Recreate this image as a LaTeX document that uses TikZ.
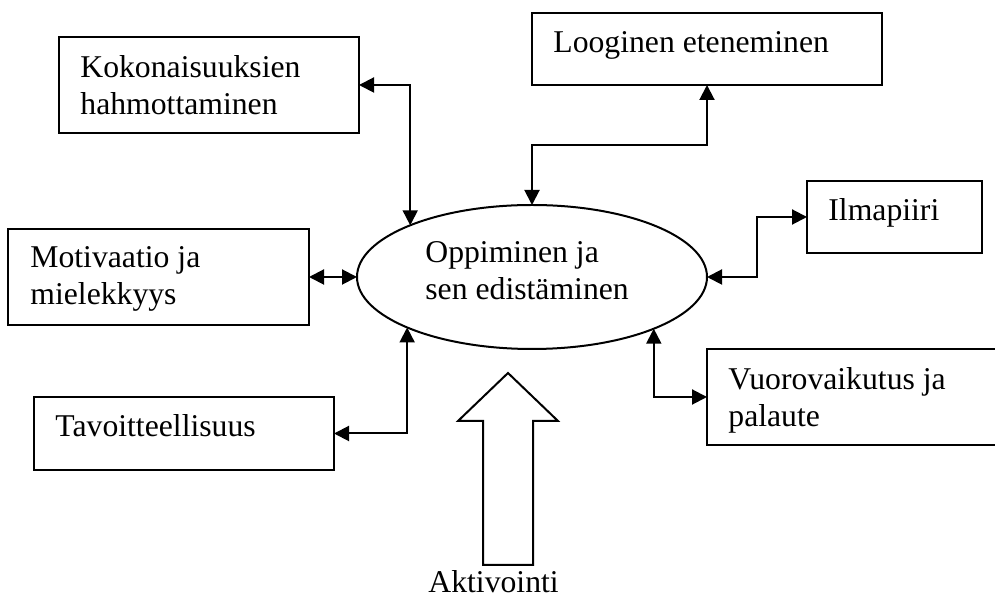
\documentclass[tikz,border=0pt]{standalone}
\usepackage{fontspec}
\setmainfont{Liberation Serif}
\usetikzlibrary{arrows.meta,shapes.geometric}
\begin{document}
\begin{tikzpicture}[x=0.5pt,y=-0.5pt,
  box/.style={draw, line width=1pt, rectangle, inner sep=0pt, outer sep=0pt},
  lbl/.style={anchor=base west, inner sep=0pt, font=\fontsize{15.85pt}{18.5pt}\selectfont},
  conn/.style={line width=1pt, {Triangle[length=7.5pt,width=7.5pt]}-{Triangle[length=7.5pt,width=7.5pt]}}]
\clip (0,0) rectangle (995,597);
% central ellipse
\node[draw, ellipse, line width=1pt, minimum width=175pt, minimum height=72pt, inner sep=0pt, outer sep=0pt] (E) at (532,277) {};
% boxes
\node[box, minimum width=150pt, minimum height=48pt] (K) at (209,85) {};
\node[box, minimum width=150.5pt, minimum height=48pt] (M) at (158.5,277) {};
\node[box, minimum width=150pt, minimum height=36.5pt] (T) at (184,433.5) {};
\node[box, minimum width=175pt, minimum height=36pt] (L) at (707,49) {};
\node[box, minimum width=87.5pt, minimum height=36pt] (I) at (894.5,217) {};
\node[box, minimum width=150pt, minimum height=48pt] (V) at (857,397) {};
% texts
\node[lbl] (k1) at (80,78) {Kokonaisuuksien};
\node[lbl] (k2) at (80,115) {hahmottaminen};
\node[lbl] (m1) at (30,268) {Motivaatio ja};
\node[lbl] (m2) at (30,305) {mielekkyys};
\node[lbl] (t1) at (55,437) {Tavoitteellisuus};
\node[lbl] (l1) at (553,53) {Looginen eteneminen};
\node[lbl] (i1) at (828,221) {Ilmapiiri};
\node[lbl] (v1) at (728,390) {Vuorovaikutus ja};
\node[lbl] (v2) at (728,427) {palaute};
\node[lbl] (e1) at (425,263) {Oppiminen ja};
\node[lbl] (e2) at (425,300) {sen edistäminen};
\node[lbl] (a1) at (428,593) {Aktivointi};
% hollow arrow
\draw[line width=1pt, line join=miter] (483,565) -- (483,421) -- (458,421) -- (508,373) -- (558,421) -- (533,421) -- (533,565) -- cycle;
% connectors
\draw[conn] (K.east) -| (E.157.1);
\draw[conn] (M.east) -- (E.west);
\draw[conn] (T.east) -| (E.202.9);
\draw[conn] (L.south) -- ++(0,60) -| (E.north);
\draw[conn] (E.east) -- ++(50,0) |- (I.west);
\draw[conn] (E.337.4) |- (V.west);
\end{tikzpicture}
\end{document}
